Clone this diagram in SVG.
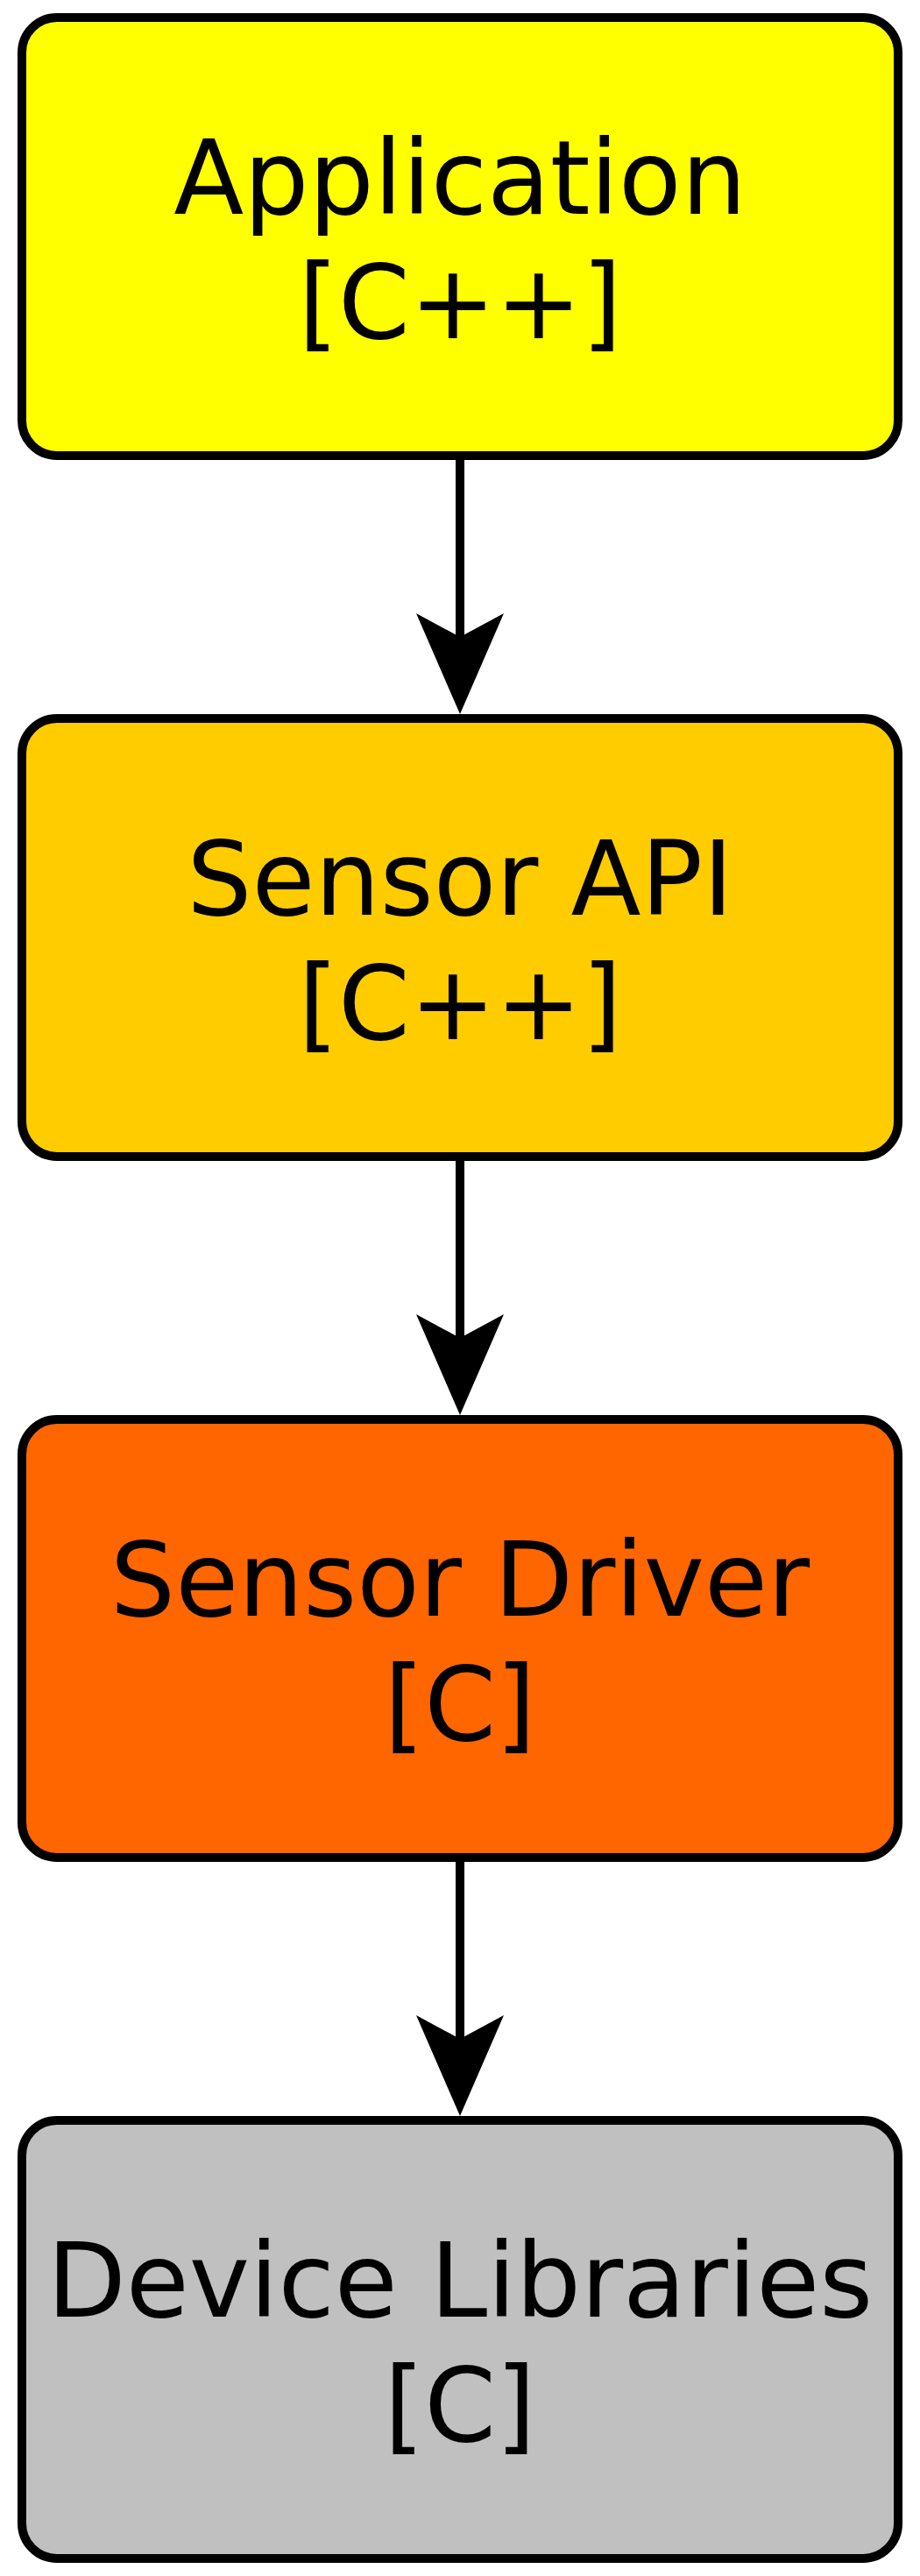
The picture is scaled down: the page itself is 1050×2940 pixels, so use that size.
<svg xmlns="http://www.w3.org/2000/svg" width="1050" height="2940" viewBox="0 0 1050 2940">
<style>
.node rect{stroke:#000;stroke-width:10}
.node text{font-family:"DejaVu Sans","Liberation Sans",sans-serif;font-size:117px;text-anchor:middle;fill:#000}
.edge{stroke:#000;stroke-width:10;fill:none}
</style>
<defs>
<marker id="ah" markerUnits="userSpaceOnUse" viewBox="0 0 115 100" markerWidth="115" markerHeight="100" refX="40" refY="50" orient="auto">
<polygon points="0,0 27,50 0,100 115,50" fill="#000"/>
</marker>
</defs>
<rect width="1050" height="2940" fill="#fff"/>
<g id="connectors">
<path class="edge" d="M525,520 V740" marker-end="url(#ah)"/>
<path class="edge" d="M525,1320 V1540" marker-end="url(#ah)"/>
<path class="edge" d="M525,2120 V2340" marker-end="url(#ah)"/>
</g>
<g id="application" class="node">
<rect x="25" y="20" width="1000" height="500" rx="40" ry="40" fill="#ffff00"/>
<text x="525" y="244">Application</text>
<text x="525" y="386">[C++]</text>
</g>
<g id="sensor-api" class="node">
<rect x="25" y="820" width="1000" height="500" rx="40" ry="40" fill="#ffcc00"/>
<text x="525" y="1044">Sensor API</text>
<text x="525" y="1186">[C++]</text>
</g>
<g id="sensor-driver" class="node">
<rect x="25" y="1620" width="1000" height="500" rx="40" ry="40" fill="#ff6600"/>
<text x="525" y="1844">Sensor Driver</text>
<text x="525" y="1986">[C]</text>
</g>
<g id="device-libraries" class="node">
<rect x="25" y="2420" width="1000" height="500" rx="40" ry="40" fill="#c0c0c0"/>
<text x="525" y="2644">Device Libraries</text>
<text x="525" y="2786">[C]</text>
</g>
</svg>
